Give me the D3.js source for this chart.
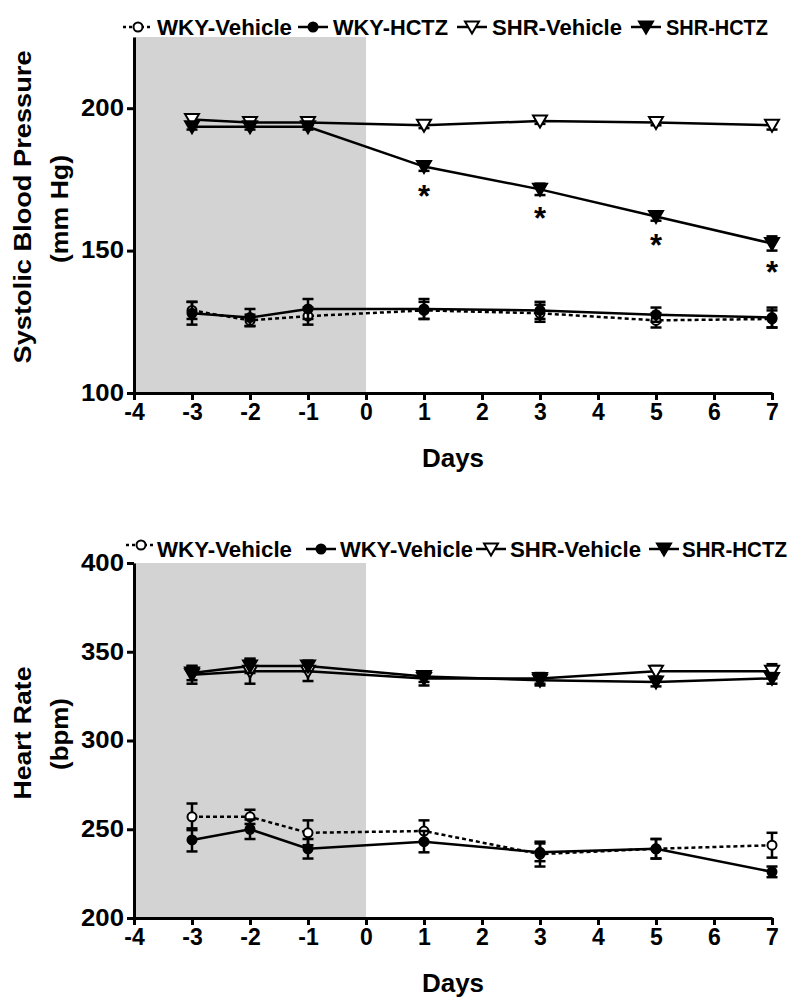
<!DOCTYPE html>
<html><head><meta charset="utf-8">
<script src="https://cdn.jsdelivr.net/npm/d3@7"></script>
<style>body{margin:0;background:#fff}svg{display:block}text{font-family:"Liberation Sans",Arial,sans-serif;font-weight:bold;fill:#000}</style>
</head><body>
<svg id="c" width="800" height="1006"></svg>
<script>
// ---- data ----
const days = [-3, -2, -1, 1, 3, 5, 7];
const xTicks = [-4, -3, -2, -1, 0, 1, 2, 3, 4, 5, 6, 7];
const shadeDays = [-4, 0];

const sbpTicks = [100, 150, 200];
const sbpWkyVeh = [129, 125.5, 127, 129, 128, 125.5, 126];
const sbpWkyVehErr = [3, 2, 3, 3, 3, 2.5, 3];
const sbpWkyHctz = [128, 126.5, 129.5, 129.5, 129, 127.5, 126.5];
const sbpWkyHctzErr = [4, 3, 3.5, 3.5, 3, 2.5, 3.5];
const sbpShrVeh = [196, 195, 195, 194, 195.5, 195, 194];
const sbpShrVehErr = [1.5, 1, 1, 1, 1, 1, 1.5];
const sbpShrHctz = [193.5, 193.5, 193.5, 179.5, 171.5, 162, 152.5];
const sbpShrHctzErr = [1, 1, 1, 1.5, 2, 1.5, 2.5];
const sbpStarDays = [1, 3, 5, 7];
const sbpLegend = ["WKY-Vehicle", "WKY-HCTZ", "SHR-Vehicle", "SHR-HCTZ"];

const hrTicks = [200, 250, 300, 350, 400];
const hrWkyVeh = [257, 257, 248, 249, 236, 239, 241];
const hrWkyVehErr = [7.5, 4, 7, 6, 7, 5.5, 7];
const hrWky2 = [244, 250, 239, 243, 237, 239, 226];
const hrWky2Err = [6.5, 5.5, 5.5, 6, 5, 5.5, 3];
const hrShrVeh = [337, 339, 339, 335, 335, 339, 339];
const hrShrVehErr = [5, 7, 5.5, 4, 3, 3, 4];
const hrShrHctz = [338, 342, 342, 336, 334, 333, 335];
const hrShrHctzErr = [4, 4, 3, 3, 3, 2.5, 3];
const hrLegend = ["WKY-Vehicle", "WKY-Vehicle", "SHR-Vehicle", "SHR-HCTZ"];

const markerTypes = ["openCircle", "filledCircle", "openTri", "filledTri"];
const dashes = ["4,3", null, null, null];

// ---- drawing ----
const svg = d3.select("#c");
svg.append("rect").attr("width", 800).attr("height", 1006).attr("fill", "#fff");

function marker(g, type, x, y) {
  if (type === "openCircle" || type === "filledCircle") {
    g.append("circle").attr("cx", x).attr("cy", y).attr("r", 4.5)
      .attr("fill", type === "openCircle" ? "#fff" : "#000")
      .attr("stroke", "#000").attr("stroke-width", 2);
  } else {
    g.append("path").attr("transform", `translate(${x},${y})`)
      .attr("d", "M-7,-5.5L7,-5.5L0,6.5Z")
      .attr("fill", type === "openTri" ? "#fff" : "#000")
      .attr("stroke", "#000").attr("stroke-width", 2).attr("stroke-linejoin", "miter");
  }
}

function chart(cfg) {
  const x = d3.scaleLinear().domain([-4, 7]).range([134, 772]);
  const y = d3.scaleLinear().domain(cfg.yDomain).range(cfg.yRange);
  const g = svg.append("g");

  g.append("rect").attr("x", x(shadeDays[0])).attr("width", x(shadeDays[1]) - x(shadeDays[0]))
    .attr("y", y.range()[1]).attr("height", y.range()[0] - y.range()[1]).attr("fill", "#d3d3d3");

  // series
  cfg.series.forEach((s, i) => {
    const line = d3.line().x((d, j) => x(days[j])).y(d => y(d));
    g.append("path").datum(s.v).attr("d", line).attr("fill", "none")
      .attr("stroke", "#000").attr("stroke-width", 2.5)
      .attr("stroke-dasharray", dashes[i]);
  });
  cfg.series.forEach((s, i) => {
    s.v.forEach((v, j) => {
      const cx = x(days[j]), y0 = y(v - s.e[j]), y1 = y(v + s.e[j]);
      g.append("line").attr("x1", cx).attr("x2", cx).attr("y1", y0).attr("y2", y1)
        .attr("stroke", "#000").attr("stroke-width", 2.5);
      [y0, y1].forEach(yy => g.append("line").attr("x1", cx - 5.5).attr("x2", cx + 5.5)
        .attr("y1", yy).attr("y2", yy).attr("stroke", "#000").attr("stroke-width", 2.5));
      marker(g, markerTypes[i], cx, y(v));
    });
  });

  // stars
  if (cfg.stars) {
    cfg.stars.days.forEach(dd => {
      const j = days.indexOf(dd);
      g.append("text").attr("x", x(dd)).attr("y", y(cfg.stars.values[j]) + 40)
        .attr("text-anchor", "middle").attr("font-size", 31).text("*");
    });
  }

  // axes
  const ya = g.append("g").attr("transform", `translate(${x(-4)},0)`)
    .call(d3.axisLeft(y).tickValues(cfg.yTicks).tickSize(7).tickSizeOuter(0).tickPadding(3));
  const xa = g.append("g").attr("transform", `translate(0,${y.range()[0]})`)
    .call(d3.axisBottom(x).tickValues(xTicks).tickSize(7).tickSizeOuter(0).tickPadding(4)
      .tickFormat(d => String(d)));
  [ya, xa].forEach(a => {
    a.select(".domain").attr("stroke-width", 3).attr("stroke", "#000");
    a.selectAll(".tick line").attr("stroke-width", 3).attr("stroke", "#000");
    a.selectAll(".tick text").attr("font-size", 23).attr("font-family", "Liberation Sans, Arial, sans-serif")
      .attr("font-weight", "bold").attr("fill", "#000");
  });
  ya.selectAll(".tick text").attr("textLength", 43).attr("lengthAdjust", "spacingAndGlyphs");

  g.append("text").attr("x", 453).attr("y", y.range()[0] + 74).attr("text-anchor", "middle")
    .attr("font-size", 26).text("Days");

  cfg.yLabels.forEach(l => {
    g.append("text").attr("transform", `translate(${l.x},${l.y}) rotate(-90)`)
      .attr("text-anchor", "middle").attr("font-size", 24)
      .attr("textLength", l.len).attr("lengthAdjust", "spacingAndGlyphs").text(l.t);
  });

  // legend
  cfg.legend.forEach((lab, i) => {
    const L = cfg.legendPos[i];
    const ly = cfg.legendY + (L.dy || 0);
    g.append("line").attr("x1", L.sx - 15).attr("x2", L.sx + 15).attr("y1", ly).attr("y2", ly)
      .attr("stroke", "#000").attr("stroke-width", 2.5).attr("stroke-dasharray", dashes[i] ? "3,3" : null);
    marker(g, markerTypes[i], L.sx, ly);
    g.append("text").attr("x", L.tx).attr("y", cfg.legendY + 8).attr("font-size", 22)
      .attr("textLength", L.len).attr("lengthAdjust", "spacingAndGlyphs").text(lab);
  });
}

chart({
  yDomain: [100, 225], yRange: [393, 37], yTicks: sbpTicks,
  series: [{v: sbpWkyVeh, e: sbpWkyVehErr}, {v: sbpWkyHctz, e: sbpWkyHctzErr},
           {v: sbpShrVeh, e: sbpShrVehErr}, {v: sbpShrHctz, e: sbpShrHctzErr}],
  stars: {days: sbpStarDays, values: sbpShrHctz},
  yLabels: [{t: "Systolic Blood Pressure", x: 31, y: 207, len: 313}, {t: "(mm Hg)", x: 68, y: 209, len: 108}],
  legend: sbpLegend, legendY: 27,
  legendPos: [{sx: 138, tx: 157, len: 135}, {sx: 313, tx: 333, len: 115},
              {sx: 472, tx: 492, len: 130}, {sx: 646, tx: 666, len: 102}]
});

chart({
  yDomain: [200, 400], yRange: [918, 563], yTicks: hrTicks,
  series: [{v: hrWkyVeh, e: hrWkyVehErr}, {v: hrWky2, e: hrWky2Err},
           {v: hrShrVeh, e: hrShrVehErr}, {v: hrShrHctz, e: hrShrHctzErr}],
  yLabels: [{t: "Heart Rate", x: 31, y: 733, len: 133}, {t: "(bpm)", x: 68, y: 734, len: 72}],
  legend: hrLegend, legendY: 549,
  legendPos: [{sx: 141, tx: 157, len: 135, dy: -4}, {sx: 321, tx: 340, len: 133},
              {sx: 491, tx: 510, len: 131}, {sx: 664, tx: 682, len: 105}]
});
</script>
</body></html>
